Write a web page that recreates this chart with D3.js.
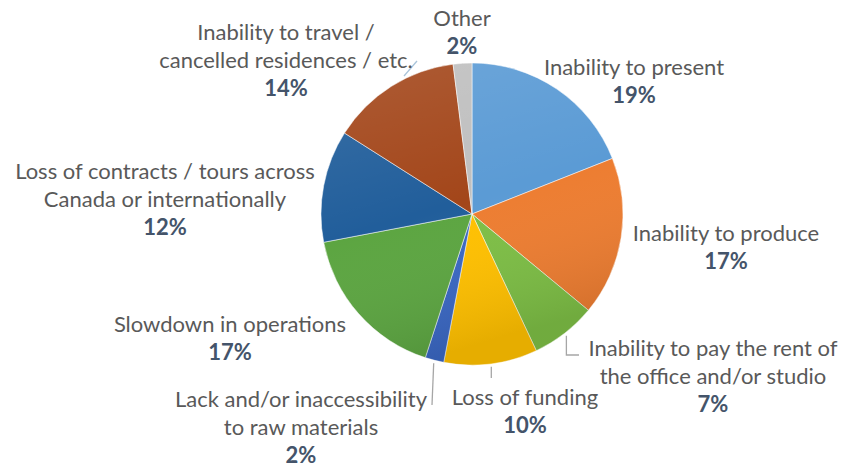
<!DOCTYPE html>
<html>
<head>
<meta charset="utf-8">
<script src="https://cdn.jsdelivr.net/npm/d3@7/dist/d3.min.js"></script>
<style>
  html, body { margin: 0; padding: 0; background: #ffffff; }
  svg { display: block; }
</style>
</head>
<body>
<svg id="chart" width="841" height="468"></svg>
<script>
// Impacts reported, share of respondents (%)
const categories = [
  "Inability to present",
  "Inability to produce",
  "Inability to pay the rent of the office and/or studio",
  "Loss of funding",
  "Lack and/or inaccessibility to raw materials",
  "Slowdown in operations",
  "Loss of contracts / tours across Canada or internationally",
  "Inability to travel / cancelled residences / etc.",
  "Other"
];
const values = [19, 17, 7, 10, 2, 17, 12, 14, 2];
const labelLines = [
  ["Inability to present"],
  ["Inability to produce"],
  ["Inability to pay the rent of", "the office and/or studio"],
  ["Loss of funding"],
  ["Lack and/or inaccessibility", "to raw materials"],
  ["Slowdown in operations"],
  ["Loss of contracts / tours across", "Canada or internationally"],
  ["Inability to travel /", "cancelled residences / etc."],
  ["Other"]
];
const colors = ["#5B9BD5", "#ED7D31", "#7DBE45", "#FFC000", "#3A67C2",
                "#5CA541", "#215E9B", "#A3461A", "#BFBFBF"];

// Layout: label anchor (centre x, first baseline y) for each slice
const labelPos = [
  [634, 75], [726, 241], [713, 356], [525, 405], [301, 407],
  [230, 332], [165, 179], [286, 40], [462, 26]
];
const lineGap = 28;

const svg = d3.select("#chart");
const cx = 472, cy = 214, r = 151;

const defs = svg.append("defs");
const shade = defs.append("linearGradient")
  .attr("id", "shade").attr("x1", 0).attr("y1", 0).attr("x2", 0.3).attr("y2", 1);
shade.append("stop").attr("offset", "0%").attr("stop-color", "#fff").attr("stop-opacity", 0.12);
shade.append("stop").attr("offset", "55%").attr("stop-color", "#fff").attr("stop-opacity", 0);
shade.append("stop").attr("offset", "100%").attr("stop-color", "#000").attr("stop-opacity", 0.1);

const pie = d3.pie().sort(null).value(d => d)(values);
const arc = d3.arc().innerRadius(0).outerRadius(r);

const g = svg.append("g").attr("transform", `translate(${cx},${cy})`);
g.selectAll("path.slice")
  .data(pie)
  .join("path")
  .attr("class", "slice")
  .attr("d", arc)
  .attr("fill", (d, i) => colors[i])
  .attr("stroke", "#ffffff")
  .attr("stroke-opacity", 0.5)
  .attr("stroke-width", 1);

g.append("circle").attr("r", r).attr("fill", "url(#shade)").attr("pointer-events", "none");

// Leader lines from slice edge to label
const edge = (d, rr) => {
  const a = (d.startAngle + d.endAngle) / 2;
  return [cx + rr * Math.sin(a), cy - rr * Math.cos(a)];
};
const leaders = [
  { i: 2, pts: p => [p, [p[0], 355], [579, 355]] },
  { i: 3, pts: p => [p, [p[0], 378]] },
  { i: 4, pts: p => [p, [432, 405]] },
  { i: 7, pts: p => [[404, 76], [417, 61]] }
];
const line = d3.line();
leaders.forEach(l => {
  const p = edge(pie[l.i], r + 3);
  svg.append("path")
    .attr("d", line(l.pts(p)))
    .attr("fill", "none")
    .attr("stroke", l.i === 7 ? "#A9C4DA" : "#A6A6A6")
    .attr("stroke-width", 1.3);
});

// Labels
const font = "Lato, 'Open Sans', sans-serif";
const fs = 22;
pie.forEach((d, i) => {
  const [x, y] = labelPos[i];
  const t = svg.append("text")
    .attr("text-anchor", "middle")
    .attr("font-family", font)
    .attr("font-size", fs);
  labelLines[i].forEach((s, k) => {
    t.append("tspan").attr("x", x).attr("y", y + k * lineGap)
      .attr("fill", "#595959").text(s);
  });
  t.append("tspan").attr("x", x).attr("y", y + labelLines[i].length * lineGap)
    .attr("fill", "#44546A").attr("font-weight", "bold")
    .text(d3.format(".0f")(values[i]) + "%");
});
</script>
</body>
</html>
